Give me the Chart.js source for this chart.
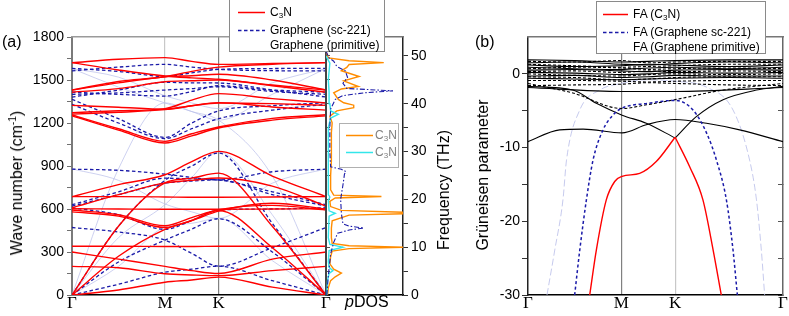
<!DOCTYPE html>
<html><head><meta charset="utf-8">
<script src="https://cdn.jsdelivr.net/npm/chart.js@4.4.0/dist/chart.umd.min.js"></script>
<style>
html,body{margin:0;padding:0;background:#fff;}
#wrap{position:relative;width:789px;height:316px;overflow:hidden;font-family:'Liberation Sans',Arial,sans-serif;color:#000;}
canvas{position:absolute;left:0;top:0;}
.t{position:absolute;white-space:nowrap;font-size:16px;line-height:16px;}
.vt{position:absolute;white-space:nowrap;font-size:16px;line-height:18px;transform:translate(-50%,-50%) rotate(-90deg);}
.box{position:absolute;background:#fff;border:1px solid #8a8a8a;}
.lt{position:absolute;white-space:nowrap;font-size:12px;line-height:14px;}
sub{font-size:8px;vertical-align:-2px;line-height:0;}
sup{font-size:10px;vertical-align:6px;line-height:0;}
svg{position:absolute;overflow:visible;}
</style>
</head><body>
<div id="wrap">
<canvas id="cA" width="789" height="316"></canvas>
<canvas id="cB" width="789" height="316"></canvas>
<canvas id="cC" width="789" height="316"></canvas>

<div class="t" style="left:2px;top:34px;">(a)</div>
<div class="t" style="left:475px;top:34px;">(b)</div>
<div class="vt" style="left:17px;top:183px;">Wave number (cm<sup>-1</sup>)</div>
<div class="vt" style="left:444px;top:190px;">Frequency (THz)</div>
<div class="vt" style="left:483px;top:175px;">Grüneisen parameter</div>

<div class="box" style="left:229px;top:-1px;width:154px;height:51px;"></div>
<svg style="left:0;top:0" width="789" height="316">
  <line x1="238" y1="12.5" x2="265" y2="12.5" stroke="#ff0000" stroke-width="1.5"/>
  <line x1="238" y1="30.5" x2="265" y2="30.5" stroke="#1a1aa8" stroke-width="1.5" stroke-dasharray="3.5,2.5"/>
</svg>
<div class="lt" style="left:270px;top:5px;">C<sub>3</sub>N</div>
<div class="lt" style="left:270px;top:23px;">Graphene (sc-221)</div>
<div class="lt" style="left:270px;top:38px;">Graphene (primitive)</div>

<div class="box" style="left:596px;top:1px;width:168px;height:51px;"></div>
<svg style="left:0;top:0" width="789" height="316">
  <line x1="603" y1="14.5" x2="628" y2="14.5" stroke="#ff0000" stroke-width="1.5"/>
  <line x1="603" y1="32.5" x2="628" y2="32.5" stroke="#1a1aa8" stroke-width="1.5" stroke-dasharray="3.5,2.5"/>
</svg>
<div class="lt" style="left:633px;top:7px;">FA (C<sub>3</sub>N)</div>
<div class="lt" style="left:633px;top:25px;">FA (Graphene sc-221)</div>
<div class="lt" style="left:633px;top:40px;">FA (Graphene primitive)</div>

<div class="box" style="left:339px;top:123px;width:58px;height:43px;border-color:#b0b0b0;"></div>
<svg style="left:0;top:0" width="789" height="316">
  <line x1="346" y1="135.5" x2="373" y2="135.5" stroke="#ff8c00" stroke-width="1.5"/>
  <line x1="346" y1="152.5" x2="373" y2="152.5" stroke="#33e6ea" stroke-width="1.5"/>
</svg>
<div class="lt" style="left:375px;top:128px;color:#808080;">C<sub>3</sub>N</div>
<div class="lt" style="left:375px;top:145px;color:#808080;">C<sub>3</sub>N</div>
</div>

<script>
// ---------- data ----------
// path coordinate: Γ=0, M=0.366, K=0.577, Γ=1
const kPath = [0, 0.183, 0.366, 0.4715, 0.577, 0.7885, 1];
const kTicks = [0, 0.366, 0.577, 1];
const kLabels = ['Γ', 'M', 'K', 'Γ'];

// Panel (a): phonon bands (cm^-1) at kPath
const c3nBands = [
  [0, 35, 89, 105, 125, 55, 0],
  [0, 270, 458, 520, 590, 330, 0],
  [0, 480, 782, 815, 850, 480, 0],
  [200, 190, 148, 140, 135, 170, 200],
  [300, 250, 200, 170, 150, 250, 300],
  [340, 340, 338, 338, 340, 340, 340],
  [580, 550, 471, 520, 585, 640, 600],
  [593, 560, 483, 540, 595, 625, 593],
  [602, 600, 598, 598, 598, 600, 602],
  [686, 686, 684, 682, 682, 684, 686],
  [609, 700, 782, 800, 816, 760, 620],
  [686, 770, 839, 930, 1002, 830, 686],
  [1250, 1150, 1060, 1110, 1165, 1220, 1250],
  [1256, 1160, 1072, 1125, 1172, 1232, 1258],
  [1262, 1275, 1293, 1320, 1340, 1335, 1323],
  [1323, 1310, 1296, 1320, 1342, 1312, 1290],
  [1272, 1285, 1300, 1360, 1405, 1370, 1340],
  [1430, 1480, 1523, 1530, 1540, 1500, 1430],
  [1430, 1490, 1523, 1560, 1590, 1610, 1621],
  [1415, 1440, 1488, 1495, 1500, 1460, 1415],
  [1621, 1645, 1656, 1630, 1609, 1615, 1621],
  [1621, 1570, 1528, 1515, 1505, 1465, 1430]
];
const grapheneScBands = [
  [0, 75, 159, 180, 201, 100, 0],
  [471, 440, 383, 290, 201, 330, 471],
  [0, 230, 383, 460, 532, 300, 0],
  [609, 560, 458, 520, 593, 600, 609],
  [620, 700, 780, 795, 803, 700, 620],
  [630, 720, 815, 810, 803, 720, 630],
  [878, 870, 843, 820, 803, 860, 878],
  [0, 480, 800, 900, 990, 500, 0],
  [1330, 1200, 1091, 1160, 1230, 1290, 1330],
  [1365, 1230, 1100, 1200, 1284, 1320, 1342],
  [1400, 1410, 1430, 1440, 1453, 1420, 1400],
  [1415, 1400, 1388, 1420, 1460, 1430, 1415],
  [1563, 1590, 1609, 1590, 1574, 1565, 1563],
  [1581, 1560, 1525, 1550, 1574, 1580, 1581],
  [1381, 1430, 1484, 1480, 1479, 1430, 1381]
];
const graphenePrimBands = [
  [0, 200, 475, 500, 535, 240, 0],
  [0, 400, 630, 820, 1000, 560, 0],
  [0, 880, 1340, 1280, 1220, 830, 0],
  [880, 800, 635, 580, 535, 780, 880],
  [1580, 1450, 1340, 1280, 1220, 1400, 1580],
  [1580, 1520, 1390, 1340, 1300, 1480, 1580]
];
const yTicksA = [0,150,300,450,600,750,900,1050,1200,1350,1500,1650,1800];

// pDOS (frequency THz, DOS arb.)
const dosFreqC = [0,1.5,3,3.8,4.6,5.4,6.5,8,9.2,9.7,10.0,10.3,10.8,12,14,15.5,16.7,17.0,17.3,17.7,18.5,19.6,20.3,20.6,20.9,22,25,28,31,34,36,37.4,38.5,39.2,39.7,40.2,40.9,42.3,43.1,43.6,44.8,45.7,46.9,47.6,48.2,48.6,49.0,49.6,51];
const dosC = [0.02,0.03,0.06,0.12,0.2,0.1,0.05,0.06,0.08,0.3,1.05,0.3,0.08,0.07,0.07,0.08,0.3,1.05,1.05,0.2,0.06,0.05,0.12,0.72,0.1,0.06,0.06,0.07,0.07,0.07,0.08,0.05,0.14,0.36,0.36,0.23,0.16,0.1,0.2,0.42,0.23,0.43,0.2,0.27,0.3,0.75,0.3,0.03,0.0];
const dosFreqN = [0,3,4.5,5.1,5.8,7,9.3,10.0,10.6,12,16.5,17.1,17.6,19.8,20.5,21,25,30,35,37.0,37.8,38.5,40,42.5,45,48.5,50];
const dosN = [0.01,0.02,0.04,0.09,0.04,0.03,0.04,0.22,0.05,0.03,0.04,0.12,0.04,0.03,0.05,0.03,0.03,0.03,0.03,0.06,0.16,0.06,0.05,0.04,0.03,0.05,0.0];
const dosFreqG = [0,4,8.6,11,12.9,13.6,14.0,14.4,14.9,17,20,23,25.3,25.8,26.3,26.8,30,35,38.9,40.9,41.7,42.3,42.7,43.2,44.3,45.5,46.9,47.8,48.9,49.6,51];
const dosG = [0.01,0.03,0.06,0.1,0.15,0.3,0.49,0.3,0.22,0.2,0.19,0.22,0.24,0.26,0.2,0.06,0.05,0.05,0.06,0.12,0.22,0.5,0.87,0.27,0.22,0.28,0.25,0.14,0.1,0.04,0];
const freqTicks = [0,5,10,15,20,25,30,35,40,45,50];
const dosTicks = [0.305, 0.588];
const dosTickLabels = ['p', 'DOS'];

// Panel (b): Grüneisen parameter
const faC3N_k = [0.242,0.268,0.307,0.340,0.369,0.438,0.503,0.577,0.634,0.686,0.726,0.758];
const faC3N_v = [-30,-23.9,-17.1,-14.6,-13.9,-13.5,-11.9,-8.6,-12.6,-17.1,-23.9,-30];
const faGsc_k = [0.183,0.203,0.229,0.255,0.294,0.333,0.366,0.47,0.577,0.647,0.70,0.739,0.778,0.804,0.821];
const faGsc_v = [-30,-23.9,-17.1,-11.7,-7.6,-5.6,-4.7,-4.0,-3.6,-4.9,-8.0,-11.7,-17.1,-23.9,-30];
const faGp_k = [0.0745,0.105,0.137,0.151,0.203,0.281,0.366,0.464,0.577,0.70,0.804,0.869,0.896,0.915,0.928];
const faGp_v = [-30,-23.9,-17.1,-11.7,-4.9,-2.2,-1.3,-0.8,-1.0,-1.8,-4.9,-11.7,-17.1,-23.9,-30];
const gruS1_k = [0,0.124,0.216,0.369,0.464,0.577,0.70,0.83,1];
const gruS1_v = [-9.2,-7.6,-7.5,-8.0,-6.9,-6.2,-6.7,-7.6,-9.2];
const gruS2_k = [0,0.176,0.268,0.369,0.464,0.577,0.66,0.765,0.896,1];
const gruS2_v = [-1.7,-2.2,-4.0,-5.6,-6.7,-8.7,-5.8,-3.5,-2.2,-1.7];
const gruS3_k = [0,0.366,0.577,1];
const gruS3_v = [-1.85,-2.4,-2.4,-1.85];
const gruD1_k = [0,0.176,0.369,0.464,0.577,0.765,1];
const gruD1_v = [-1.3,-2.6,-4.7,-4.2,-3.5,-2.2,-1.3];
const gruSolid = [
  [1.9,1.8,1.6,1.7,1.8,1.9,1.9],
  [1.5,1.6,1.3,1.2,1.4,1.6,1.5],
  [1.2,1.0,1.1,1.3,1.2,1.0,1.2],
  [0.9,0.7,0.6,0.8,0.9,0.7,0.9],
  [0.5,0.6,0.4,0.3,0.5,0.6,0.5],
  [0.2,0.1,-0.1,0.0,0.2,0.1,0.2],
  [-0.3,-0.2,-0.5,-0.4,-0.2,-0.3,-0.3],
  [-0.6,-0.7,-0.8,-0.7,-0.6,-0.5,-0.6]
];
const gruDashed = [
  [1.7,1.6,1.8,1.5,1.6,1.7,1.7],
  [1.3,1.1,0.9,1.0,1.1,1.3,1.3],
  [0.7,0.9,0.8,0.6,0.7,0.8,0.7],
  [0.3,0.4,0.2,0.4,0.3,0.4,0.3],
  [0.0,-0.2,-0.3,-0.1,0.0,-0.1,0.0],
  [-0.4,-0.5,-0.8,-0.7,-0.5,-0.4,-0.4],
  [-0.9,-0.9,-1.0,-1.1,-1.0,-0.9,-0.9],
  [-1.6,-1.5,-1.4,-1.2,-1.3,-1.5,-1.6]
];
const gruTicks = [-30,-25,-20,-15,-10,-5,0];

// ---------- helpers ----------
Chart.defaults.font.family = "'Liberation Sans', Arial, sans-serif";
Chart.defaults.color = '#000';
const xy = (ks, vs) => vs.map((v, i) => ({x: ks[i], y: v}));
const fy = (fs, ds) => fs.map((f, i) => ({x: ds[i], y: f}));
function ln(data, color, width, dash, smooth) {
  return {data, showLine: true, borderColor: color, backgroundColor: color, borderWidth: width,
    borderDash: dash || [], pointRadius: 0, fill: false, xAxisID: 'x', yAxisID: 'y',
    cubicInterpolationMode: smooth === false ? 'default' : 'monotone', tension: 0};
}
const setTicks = arr => s => { s.ticks = arr.map(v => ({value: v})); };
const base = {responsive: false, animation: false, events: [], devicePixelRatio: 1,
  plugins: {legend: {display: false}, tooltip: {enabled: false}}};
const topBorder = c => ({type: 'linear', position: 'top', min: 0, max: 1, ticks: {display: false},
  grid: {display: false, drawTicks: false}, border: {display: true, color: c, width: 1.5}, afterFit: s => { s.height = 0; }});

const RED = '#ff0000', BLUE = '#1a1aa8', LIGHT = '#b8bde9';
const SERIF = "'Liberation Serif', 'Times New Roman', serif";
const LABEL_PAD = -2;

// ---------- Chart A: band structure ----------
const dsA = [];
c3nBands.forEach(b => dsA.push(ln(xy(kPath, b), RED, 1.4)));
grapheneScBands.forEach(b => dsA.push(ln(xy(kPath, b), BLUE, 1.3, [3.5, 2.5])));
graphenePrimBands.forEach(b => dsA.push(ln(xy(kPath, b), LIGHT, 0.7)));

new Chart(document.getElementById('cA'), {
  type: 'scatter', data: {datasets: dsA},
  options: Object.assign({}, base, {
    layout: {padding: {left: 0, top: 37, right: 463, bottom: 0}},
    scales: {
      x: {type: 'linear', min: 0, max: 1, position: 'bottom',
        afterBuildTicks: setTicks(kTicks), afterFit: s => { s.height = 21; },
        ticks: {autoSkip: false, maxRotation: 0, padding: LABEL_PAD, font: {family: SERIF, size: 17},
          callback: (v, i) => kLabels[i]},
        grid: {drawTicks: false, lineWidth: 1.2, color: c => c.index === 1 ? '#c8c8c8' : (c.index === 2 ? '#808080' : 'rgba(0,0,0,0)')},
        border: {display: true, color: '#000', width: 1.5}},
      y: {type: 'linear', min: 0, max: 1800, position: 'left',
        afterBuildTicks: setTicks(yTicksA), afterFit: s => { s.width = 72; },
        ticks: {autoSkip: false, padding: 3, font: {size: 14}, callback: v => (v % 300 === 0 ? String(v) : '')},
        grid: {drawOnChartArea: false, drawTicks: true, tickLength: 5, color: '#707070'},
        border: {display: true, color: '#7a7a7a', width: 2}},
      xTop: topBorder('#9a9a9a')
    }
  })
});

// ---------- Chart B: pDOS ----------
const fMax = 1800 / 33.356;
new Chart(document.getElementById('cB'), {
  type: 'scatter',
  data: {datasets: [
    ln(fy(dosFreqG, dosG), BLUE, 1.1, [5, 2, 1.5, 2], false),
    ln(fy(dosFreqN, dosN), '#33e6ea', 1.4, [], false),
    ln(fy(dosFreqC, dosC), '#ff8c00', 1.4, [], false)
  ]},
  options: Object.assign({}, base, {
    layout: {padding: {left: 326, top: 37, right: 0, bottom: 0}},
    scales: {
      x: {type: 'linear', min: 0, max: 1, position: 'bottom',
        afterBuildTicks: setTicks(dosTicks), afterFit: s => { s.height = 21; },
        ticks: {autoSkip: false, maxRotation: 0, padding: LABEL_PAD,
          font: c => ({family: "'Liberation Sans', Arial, sans-serif", size: 16, style: c.index === 0 ? 'italic' : 'normal'}),
          callback: (v, i) => dosTickLabels[i]},
        grid: {display: false, drawTicks: false}, border: {display: true, color: '#000', width: 1.5}},
      y: {type: 'linear', min: 0, max: fMax, position: 'right',
        afterBuildTicks: setTicks(freqTicks), afterFit: s => { s.width = 386; },
        ticks: {autoSkip: false, padding: 3, font: {size: 14}, callback: v => (v % 10 === 0 ? String(v) : '')},
        grid: {drawOnChartArea: false, tickLength: 5, color: '#333'},
        border: {display: true, color: '#222', width: 1.5}},
      yL: {type: 'linear', min: 0, max: fMax, position: 'left',
        afterBuildTicks: setTicks(freqTicks), afterFit: s => { s.width = 0; },
        ticks: {display: false},
        grid: {drawOnChartArea: false, tickLength: -4, color: '#555'},
        border: {display: true, color: '#444', width: 2}},
      xTop: topBorder('#777')
    }
  })
});

// ---------- Chart C: Grüneisen ----------
const dsC = [];
const kIdxR = faC3N_k.indexOf(0.577);
dsC.push(ln(xy(faC3N_k.slice(0, kIdxR + 1), faC3N_v.slice(0, kIdxR + 1)), RED, 1.4));
dsC.push(ln(xy(faC3N_k.slice(kIdxR), faC3N_v.slice(kIdxR)), RED, 1.4));
dsC.push(ln(xy(faGsc_k, faGsc_v), BLUE, 1.5, [3, 2.5]));
const kIdxS = gruS2_k.indexOf(0.577);
dsC.push(ln(xy(gruS1_k, gruS1_v), '#000', 1.1));
dsC.push(ln(xy(gruS2_k.slice(0, kIdxS + 1), gruS2_v.slice(0, kIdxS + 1)), '#000', 1.1));
dsC.push(ln(xy(gruS2_k.slice(kIdxS), gruS2_v.slice(kIdxS)), '#000', 1.1));
dsC.push(ln(xy(gruS3_k, gruS3_v), '#000', 1.1));
dsC.push(ln(xy(gruD1_k, gruD1_v), '#000', 1.1, [3, 2]));
gruSolid.forEach(b => dsC.push(ln(xy(kPath, b), '#000', 1.1)));
gruDashed.forEach(b => dsC.push(ln(xy(kPath, b), '#000', 1.1, [3, 2])));
dsC.push(ln(xy(faGp_k, faGp_v), LIGHT, 0.8, [7, 3]));

new Chart(document.getElementById('cC'), {
  type: 'scatter', data: {datasets: dsC},
  options: Object.assign({}, base, {
    layout: {padding: {left: 0, top: 37, right: 6, bottom: 0}},
    scales: {
      x: {type: 'linear', min: 0, max: 1, position: 'bottom',
        afterBuildTicks: setTicks(kTicks), afterFit: s => { s.height = 21; },
        ticks: {autoSkip: false, maxRotation: 0, padding: LABEL_PAD, font: {family: SERIF, size: 17},
          callback: (v, i) => kLabels[i]},
        grid: {drawTicks: false, lineWidth: 1.2, color: c => c.index === 1 ? '#808080' : (c.index === 2 ? '#c8c8c8' : 'rgba(0,0,0,0)')},
        border: {display: true, color: '#000', width: 1.5}},
      y: {type: 'linear', min: -30, max: 5, position: 'left',
        afterBuildTicks: setTicks(gruTicks), afterFit: s => { s.width = 528; },
        ticks: {autoSkip: false, padding: 2, font: {size: 14}, callback: v => (v % 10 === 0 ? String(v) : '')},
        grid: {drawOnChartArea: false, tickLength: 6, color: '#333'},
        border: {display: true, color: '#222', width: 1.5}},
      y2: {type: 'linear', min: -30, max: 5, position: 'right',
        afterBuildTicks: setTicks(gruTicks), afterFit: s => { s.width = 0; },
        ticks: {display: false},
        grid: {drawOnChartArea: false, tickLength: -5, color: '#555'},
        border: {display: true, color: '#666', width: 1.5}},
      xTop: topBorder('#777')
    }
  })
});
</script>
</body></html>
